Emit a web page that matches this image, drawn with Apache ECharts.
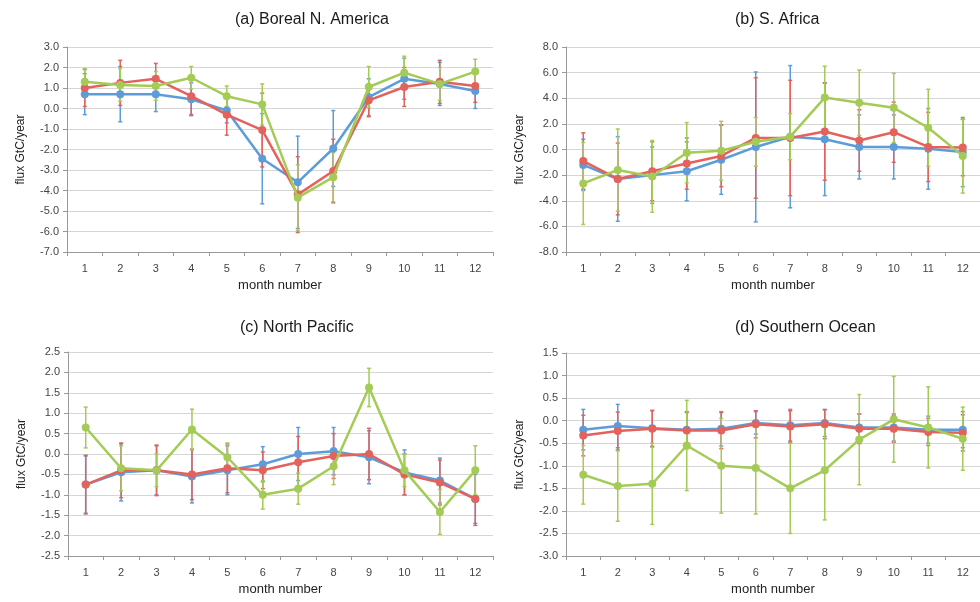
<!DOCTYPE html>
<html>
<head>
<meta charset="utf-8">
<script src="https://cdn.jsdelivr.net/npm/echarts@6/dist/echarts.min.js"></script>
<style>
  html, body { margin: 0; padding: 0; background: #fff; }
  #chart { width: 980px; height: 602px; }
</style>
</head>
<body>
<div id="chart"></div>
<script>
var months = ['1', '2', '3', '4', '5', '6', '7', '8', '9', '10', '11', '12']

// (a) Boreal N. America
var borealBlue = [0.7, 0.7, 0.7, 0.45, -0.1, -2.45, -3.6, -1.95, 0.55, 1.45, 1.2, 0.85]
var borealBlueErr = [1.0, 1.35, 0.85, 0.8, 0.6, 2.2, 2.25, 1.85, 0.9, 1.0, 1.05, 0.85]
var borealRed = [1.0, 1.25, 1.45, 0.6, -0.3, -1.05, -4.2, -3.05, 0.4, 1.05, 1.3, 1.1]
var borealRedErr = [0.9, 1.1, 0.75, 0.9, 1.0, 1.8, 1.85, 1.55, 0.8, 0.95, 1.05, 0.8]
var borealGreen = [1.3, 1.15, 1.1, 1.5, 0.6, 0.2, -4.35, -3.35, 1.05, 1.75, 1.2, 1.8]
var borealGreenErr = [0.65, 0.8, 0.7, 0.55, 0.5, 1.0, 1.6, 1.2, 1.0, 0.8, 0.8, 0.6]

// (b) S. Africa
var africaBlue = [-1.2, -2.3, -2.0, -1.7, -0.8, 0.2, 1.0, 0.8, 0.2, 0.2, 0.05, -0.2]
var africaBlueErr = [2.0, 3.3, 2.2, 2.3, 2.7, 5.85, 5.55, 4.4, 2.5, 2.5, 3.15, 2.7]
var africaRed = [-0.9, -2.3, -1.7, -1.1, -0.5, 0.9, 0.9, 1.4, 0.7, 1.35, 0.2, 0.15]
var africaRedErr = [2.2, 2.8, 2.3, 2.0, 2.4, 4.7, 4.5, 3.8, 2.4, 2.35, 2.7, 2.2]
var africaGreen = [-2.65, -1.6, -2.1, -0.25, -0.1, 0.6, 1.0, 4.05, 3.65, 3.25, 1.7, -0.5]
var africaGreenErr = [3.2, 3.2, 2.8, 2.35, 2.3, 1.9, 1.8, 2.45, 2.55, 2.7, 3.0, 2.9]

// (c) North Pacific
var pacificBlue = [-0.75, -0.45, -0.4, -0.55, -0.4, -0.25, 0.0, 0.07, -0.08, -0.45, -0.65, -1.1]
var pacificBlueErr = [0.7, 0.7, 0.6, 0.65, 0.6, 0.43, 0.65, 0.58, 0.65, 0.55, 0.55, 0.6]
var pacificRed = [-0.75, -0.4, -0.4, -0.5, -0.35, -0.4, -0.2, -0.05, 0.0, -0.5, -0.7, -1.1]
var pacificRedErr = [0.72, 0.67, 0.62, 0.62, 0.6, 0.45, 0.63, 0.55, 0.63, 0.5, 0.55, 0.65]
var pacificGreen = [0.65, -0.35, -0.4, 0.6, -0.08, -1.0, -0.85, -0.3, 1.63, -0.4, -1.42, -0.4]
var pacificGreenErr = [0.5, 0.55, 0.4, 0.5, 0.35, 0.35, 0.38, 0.45, 0.47, 0.4, 0.55, 0.6]

// (d) Southern Ocean
var southBlue = [-0.2, -0.12, -0.17, -0.2, -0.18, -0.05, -0.1, -0.05, -0.15, -0.15, -0.2, -0.2]
var southBlueErr = [0.45, 0.48, 0.4, 0.4, 0.38, 0.25, 0.35, 0.3, 0.3, 0.3, 0.3, 0.4]
var southRed = [-0.33, -0.23, -0.18, -0.22, -0.22, -0.08, -0.13, -0.08, -0.18, -0.18, -0.25, -0.27]
var southRedErr = [0.45, 0.42, 0.4, 0.4, 0.4, 0.3, 0.35, 0.32, 0.33, 0.3, 0.3, 0.4]
var southGreen = [-1.2, -1.45, -1.4, -0.55, -1.0, -1.05, -1.5, -1.1, -0.42, 0.03, -0.15, -0.4]
var southGreenErr = [0.65, 0.78, 0.9, 1.0, 1.05, 1.02, 1.0, 1.1, 1.0, 0.95, 0.9, 0.7]

var colors = ['#5d9cd9', '#e3625c', '#a3cb55']

var panels = [
  { title: '(a) Boreal N. America', tx: 235, ty: 21, grid: { left: 67, top: 47, width: 426, height: 205 },
    min: -7, max: 3, interval: 1,
    series: [[borealBlue, borealBlueErr], [borealRed, borealRedErr], [borealGreen, borealGreenErr]] },
  { title: '(b) S. Africa', tx: 735, ty: 21, grid: { left: 566, top: 47, width: 422, height: 205 },
    min: -8, max: 8, interval: 2,
    series: [[africaBlue, africaBlueErr], [africaRed, africaRedErr], [africaGreen, africaGreenErr]] },
  { title: '(c) North Pacific', tx: 240, ty: 329, grid: { left: 68, top: 352, width: 425, height: 204 },
    min: -2.5, max: 2.5, interval: 0.5,
    series: [[pacificBlue, pacificBlueErr], [pacificRed, pacificRedErr], [pacificGreen, pacificGreenErr]] },
  { title: '(d) Southern Ocean', tx: 735, ty: 329, grid: { left: 566, top: 353, width: 425, height: 203 },
    min: -3, max: 1.5, interval: 0.5,
    series: [[southBlue, southBlueErr], [southRed, southRedErr], [southGreen, southGreenErr]] }
]

function errorBar (params, api) {
  var x = api.value(0)
  var y = api.value(1)
  var e = api.value(2)
  var top = api.coord([x, y + e])
  var bot = api.coord([x, y - e])
  var st = { stroke: api.visual('color'), lineWidth: 1.5 }
  return {
    type: 'group',
    children: [
      { type: 'line', shape: { x1: top[0], y1: top[1], x2: bot[0], y2: bot[1] }, style: st },
      { type: 'line', shape: { x1: top[0] - 2, y1: top[1], x2: top[0] + 2, y2: top[1] }, style: st },
      { type: 'line', shape: { x1: bot[0] - 2, y1: bot[1], x2: bot[0] + 2, y2: bot[1] }, style: st }
    ]
  }
}

var grids = []
var xAxes = []
var yAxes = []
var series = []
var graphics = []

panels.forEach(function (p, i) {
  grids.push(p.grid)
  graphics.push({
    type: 'text', left: p.tx, top: p.ty - 9,
    style: { text: p.title, font: '16px "Liberation Sans", Arial, sans-serif', fill: '#1a1a1a', textAlign: 'center' }
  })
  xAxes.push({
    type: 'category', gridIndex: i, data: months, boundaryGap: true,
    name: 'month number', nameLocation: 'middle', nameGap: 27,
    nameTextStyle: { fontSize: 13, color: '#222', fontFamily: 'Liberation Sans' },
    axisLine: { onZero: false, lineStyle: { color: '#999' } },
    axisTick: { show: true, length: 4, lineStyle: { color: '#999' } },
    axisLabel: { fontSize: 11, color: '#444', margin: 11, fontFamily: 'Liberation Sans' },
    splitLine: { show: false }
  })
  yAxes.push({
    type: 'value', gridIndex: i, min: p.min, max: p.max, interval: p.interval,
    name: 'flux GtC/year', nameLocation: 'middle', nameGap: 40,
    nameTextStyle: { fontSize: 12, color: '#222', fontFamily: 'Liberation Sans' },
    axisLine: { show: true, lineStyle: { color: '#999' } },
    axisTick: { show: true, length: 4, lineStyle: { color: '#999' } },
    axisLabel: { fontSize: 11, color: '#444', margin: 8, fontFamily: 'Liberation Sans',
      formatter: function (v) { return v.toFixed(1) } },
    splitLine: { show: true, lineStyle: { color: '#d6d6d6', width: 1.2 } }
  })
  p.series.forEach(function (s, k) {
    var vals = s[0]
    var errs = s[1]
    series.push({
      type: 'custom', xAxisIndex: i, yAxisIndex: i, z: 2,
      renderItem: errorBar,
      itemStyle: { color: colors[k] },
      encode: { x: 0, y: 1 },
      data: vals.map(function (v, j) { return [j, v, errs[j]] }),
      silent: true
    })
    series.push({
      type: 'line', xAxisIndex: i, yAxisIndex: i, z: 3 + k,
      data: vals,
      symbol: 'circle', symbolSize: 8,
      lineStyle: { color: colors[k], width: 2.5 },
      itemStyle: { color: colors[k] },
      animation: false
    })
  })
})

var chart = echarts.init(document.getElementById('chart'))
chart.setOption({
  animation: false,
  backgroundColor: '#fff',
  grid: grids,
  xAxis: xAxes,
  yAxis: yAxes,
  graphic: graphics,
  series: series
})
</script>
</body>
</html>
